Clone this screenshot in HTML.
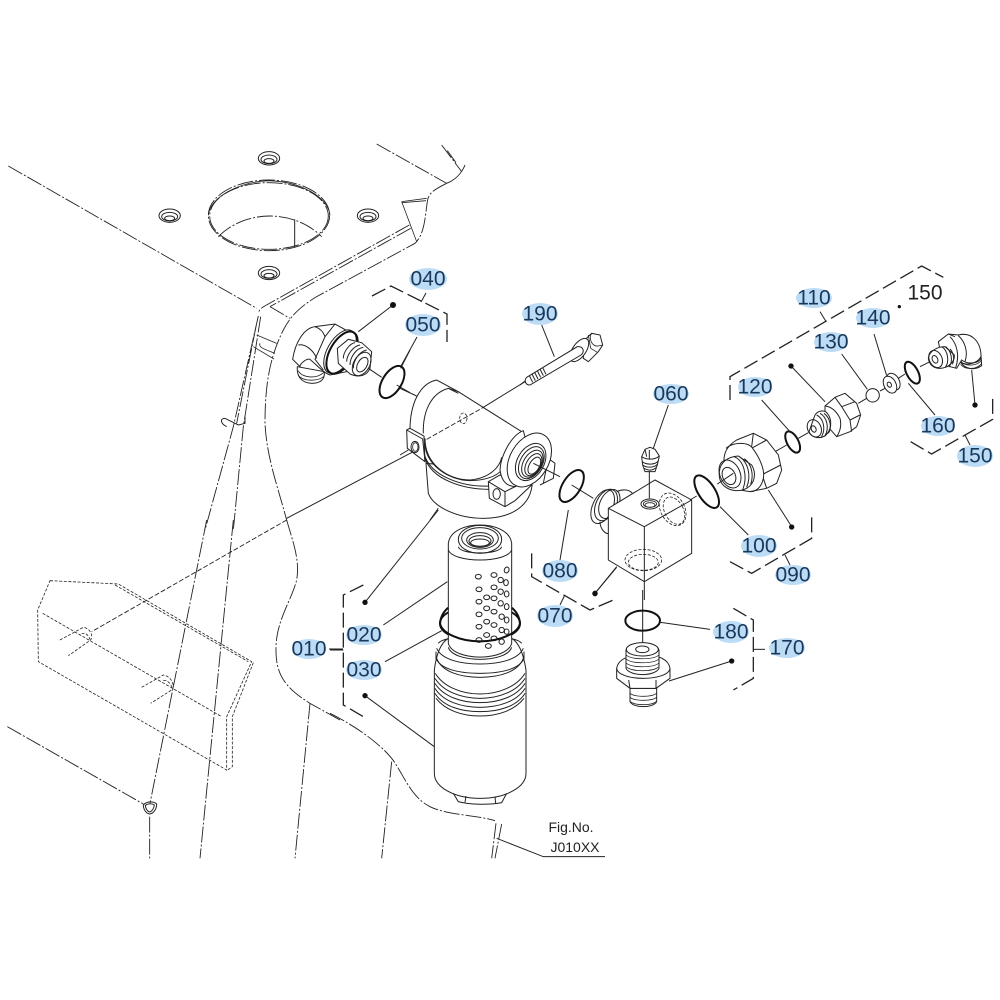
<!DOCTYPE html>
<html><head><meta charset="utf-8">
<style>
html,body{margin:0;padding:0;background:#fff;width:1000px;height:1000px;overflow:hidden}
svg{display:block;filter:blur(.35px)}
svg *{vector-effect:non-scaling-stroke}
path,line,ellipse,circle,polyline,polygon{fill:none;stroke:#222;stroke-width:1}
.w{fill:#fff}
.dd{stroke-dasharray:16 2 2 2;stroke-width:.9}
.ds{stroke-dasharray:3 1.6;stroke-width:.8}
.dk{stroke-dasharray:5 2;stroke-width:.9}
.br{stroke-dasharray:15 5;stroke-width:1.3}
.o{stroke-width:2;stroke:#111}
.t{stroke-width:.8}
.dot{fill:#111;stroke:none}
.hl{fill:#bcdcf6;stroke:none}
text{font-family:"Liberation Sans",sans-serif;font-size:21px;fill:#17385c;text-anchor:middle;dominant-baseline:central}
text.k{fill:#222}
text.f{font-size:14px;fill:#222}
</style></head><body>
<svg width="1000" height="1000" viewBox="0 0 1000 1000" xmlns="http://www.w3.org/2000/svg">

<!-- ZOOM 1 frame -->
<g transform="translate(0,130) scale(.33333)">
<path class="dd" d="M25,108L770,535"/>
<path class="dd" d="M1130,42L1340,160"/>
<path d="M1340,160C1365,150 1385,130 1395,105"/>
<path class="dd" d="M1325,45L1385,125M1342,62L1368,98"/>
<path class="dd" d="M1340,160C1300,180 1285,190 1282,215C1275,260 1275,310 1245,340L950,500C900,530 870,560 850,600C810,680 795,760 795,880C800,980 830,1060 860,1170"/>
<path class="dd" d="M1228,285L805,522C790,530 780,535 775,548M1232,295L810,530"/>
<path class="t" d="M1205,215L1280,205M1205,218L1278,212M1205,215L1250,335"/>
<path class="dd" d="M810,530L870,565"/>
<path class="dd" d="M775,558L700,890L615,1200M782,560L730,890L700,1200M768,590L710,880"/>
<path class="t" d="M770,615L830,640M780,640C775,650 785,655 825,670M760,650L822,687"/>
<path d="M680,890C660,880 660,865 675,865L715,885L735,880L735,860"/>
<path d="M1240,965L860,1165"/>
<!-- large hole -->
<ellipse class="dd" cx="807" cy="256" rx="182" ry="106"/>
<ellipse class="dd" cx="807" cy="258" rx="178" ry="100"/>
<path class="t" d="M625,256C630,200 720,155 807,152C900,155 985,200 990,256"/>
<path class="dd" d="M655,320C700,275 760,258 810,258C860,258 920,275 965,320"/>
<path d="M884,268V352"/>
<!-- small holes -->
<g><ellipse cx="807" cy="85" rx="32" ry="20"/><ellipse cx="807" cy="88" rx="24" ry="13"/><ellipse cx="807" cy="93" rx="15" ry="7"/></g>
<g><ellipse cx="509" cy="257" rx="32" ry="20"/><ellipse cx="509" cy="260" rx="24" ry="13"/><ellipse cx="509" cy="265" rx="15" ry="7"/></g>
<g><ellipse cx="1104" cy="257" rx="32" ry="20"/><ellipse cx="1104" cy="260" rx="24" ry="13"/><ellipse cx="1104" cy="265" rx="15" ry="7"/></g>
<g><ellipse cx="807" cy="429" rx="32" ry="20"/><ellipse cx="807" cy="432" rx="24" ry="13"/><ellipse cx="807" cy="437" rx="15" ry="7"/></g>
</g>

<!-- ZOOM 5 left lower -->
<g transform="translate(0,520) scale(.33333)">
<path class="dd" d="M860,0C880,70 900,120 890,180C875,240 830,300 828,380C826,460 850,500 930,550L1020,600"/>
<path class="dk" d="M860,0L275,335"/>
<path class="ds" d="M150,182L355,192L755,425L680,590L680,750L115,425L113,270Z"/>
<path class="ds" d="M345,195L745,425M760,428L697,590L697,740L680,752"/>
<path class="ds" d="M128,280L665,590"/>
<path class="ds" d="M180,360L250,322C270,325 280,345 272,360L205,407M425,502L490,465C510,468 525,490 518,508L452,550"/>
<path class="ds" d="M245,342C255,335 265,345 270,358M490,482C500,478 512,490 516,502"/>
<path class="dd" d="M620,0L450,850M700,0L600,1015"/>
<path class="dd" d="M930,550L885,1015"/>
<path class="dd" d="M22,620L430,852"/>
<path d="M430,855C440,843 460,843 470,852C470,870 458,882 448,882C438,880 430,868 430,855Z"/>
<path d="M436,856C444,850 456,850 463,855C462,866 455,875 448,876C442,874 437,866 436,856Z"/>
<path class="dd" d="M449,890V1015"/>
</g>

<!-- ZOOM 4 lower frame -->
<g transform="translate(330,510) scale(.33333)">
<path class="dd" d="M0,610C60,640 140,690 185,745C220,790 240,860 300,890C350,915 440,915 495,932"/>
<path class="dd" d="M185,755L155,1045"/>
<path class="dd" d="M498,940L485,1045M515,942L495,1045"/>
<path d="M500,985L640,1040H825"/>
<path d="M325,0L105,277"/>
<circle class="dot" cx="105" cy="277" r="8"/>
<path class="br" d="M100,225L40,255V585L100,620"/>
<path d="M0,420H40"/>
<!-- cartridge -->
<path class="w" d="M313,480C318,440 330,400 355,385H545C570,400 582,440 588,480V790C588,830 530,865 450,865C370,865 313,830 313,790Z"/>
<path d="M370,850L385,875C420,885 480,885 515,878L530,850M405,877L408,858M497,880L495,860"/>
<path d="M318,425V445C330,475 380,490 450,490C520,490 570,475 582,445V425"/>
<path d="M320,445C335,485 390,502 450,502C510,502 565,485 580,445"/>
<path d="M320,415C335,450 395,462 450,462C505,462 565,450 580,415"/>
<path d="M316,490C340,530 395,552 450,552C505,552 560,530 585,490"/>
<path d="M315,505C340,545 395,565 450,565C505,565 560,545 585,505"/>
<path d="M315,520C340,560 395,578 450,578C505,578 560,560 585,520"/>
<path d="M315,535C340,575 395,592 450,592C505,592 560,575 585,535"/>
<path d="M315,550C340,590 395,605 450,605C505,605 560,590 585,550"/>
<path d="M318,565C345,600 395,618 450,618C505,618 555,600 582,565"/>
<path d="M325,400C345,370 555,370 575,400"/>
<!-- ring back -->
<ellipse class="o" cx="450" cy="340" rx="120" ry="54"/>
<!-- element -->
<path class="w" d="M355,100C360,60 410,45 450,45C490,45 540,60 545,100V400C530,455 370,455 355,400Z"/>
<path d="M355,120C370,160 530,160 545,120"/>
<path d="M355,412C370,460 530,460 545,412"/>
<ellipse cx="450" cy="88" rx="65" ry="42"/><ellipse cx="450" cy="85" rx="55" ry="32"/>
<ellipse cx="450" cy="90" rx="40" ry="22"/><ellipse cx="450" cy="93" rx="33" ry="16"/><ellipse cx="450" cy="98" rx="28" ry="11"/>
<path d="M385,110C390,135 510,135 515,110"/>
<g class="t">
<ellipse cx="530" cy="180" rx="7" ry="9" transform="rotate(20 530 180)"/><ellipse cx="492" cy="195" rx="9" ry="7"/><ellipse cx="512" cy="210" rx="8" ry="8"/><ellipse cx="528" cy="218" rx="7" ry="9"/><ellipse cx="445" cy="200" rx="9" ry="7"/><ellipse cx="447" cy="238" rx="9" ry="7"/><ellipse cx="492" cy="232" rx="9" ry="7"/><ellipse cx="512" cy="245" rx="8" ry="8"/><ellipse cx="530" cy="252" rx="7" ry="9"/><ellipse cx="447" cy="275" rx="9" ry="7"/><ellipse cx="470" cy="262" rx="9" ry="7"/><ellipse cx="492" cy="265" rx="9" ry="7"/><ellipse cx="512" cy="280" rx="8" ry="8"/><ellipse cx="530" cy="290" rx="7" ry="9"/><ellipse cx="447" cy="313" rx="9" ry="7"/><ellipse cx="470" cy="295" rx="9" ry="7"/><ellipse cx="492" cy="305" rx="9" ry="7"/><ellipse cx="515" cy="320" rx="8" ry="8"/><ellipse cx="530" cy="330" rx="7" ry="9"/><ellipse cx="447" cy="350" rx="9" ry="7"/><ellipse cx="470" cy="335" rx="9" ry="7"/><ellipse cx="492" cy="345" rx="9" ry="7"/><ellipse cx="515" cy="360" rx="8" ry="8"/><ellipse cx="530" cy="365" rx="7" ry="8"/><ellipse cx="447" cy="390" rx="9" ry="7"/><ellipse cx="470" cy="375" rx="9" ry="7"/><ellipse cx="492" cy="385" rx="9" ry="7"/><ellipse cx="515" cy="395" rx="8" ry="8"/><ellipse cx="475" cy="408" rx="9" ry="7"/>
</g>
<path class="o" d="M330,340C335,370 390,394 450,394C510,394 565,370 570,340M330,340C332,320 340,305 355,293M545,293C560,305 568,320 570,340"/>
<path d="M160,345L352,215M165,455L335,362"/>
<path d="M105,557L313,710"/>
<circle class="dot" cx="105" cy="557" r="8"/>
<path class="br" d="M605,130V200L780,300L850,270"/>
<path d="M690,285L703,258"/>
<path d="M795,250L860,172"/>
<circle class="dot" cx="795" cy="250" r="8"/>
<path d="M690,150L715,0"/>
</g>

<!-- ZOOM 7 elbow 040 -->
<g transform="translate(280,300) scale(.33333)" >
<path class="w" d="M52,200C50,225 60,248 95,250C120,250 135,240 133,215Z"/>
<path class="t" d="M55,212C65,235 115,238 133,215M55,226C70,245 115,245 133,228"/>
<path class="w" d="M38,178C45,130 70,85 105,80L165,72L225,105L225,210L150,225C130,218 110,195 90,178C80,175 60,190 60,200Z"/>
<path d="M55,135C75,130 100,150 110,175M105,80C120,85 130,95 135,110M165,72L135,110L105,178L130,210"/>
<ellipse cx="180" cy="155" rx="38" ry="72" transform="rotate(30 180 155)" class="w"/>
<ellipse cx="186" cy="158" rx="36" ry="70" transform="rotate(30 186 158)" class="o"/>
<path class="w" d="M172,145L205,118L245,128L275,155L270,205C262,225 240,235 210,222L175,190Z"/>
<g class="t"><path d="M190,175C190,155 210,130 225,128M200,185C200,165 220,138 240,135M210,195C210,172 228,145 250,142M220,205C220,180 238,155 260,150"/>
<ellipse cx="245" cy="192" rx="24" ry="38" transform="rotate(30 245 192)"/>
<ellipse cx="247" cy="194" rx="14" ry="24" transform="rotate(30 247 194)"/></g>
<path d="M235,95L335,18M265,205L305,232M350,255L390,278"/>
<circle class="dot" cx="339" cy="15" r="9"/>
<path d="M362,205L390,150"/>
</g>

<!-- O-ring 050 -->
<ellipse class="o" cx="392" cy="382" rx="9.5" ry="18" transform="rotate(32 392 382)"/>
<path d="M401,366L417,337"/>

<!-- Bracket 040 -->
<path class="br" d="M372,296L391,286L447,314V342"/>
<path d="M421,302L426,293"/>

<!-- Bolt -->
<g transform="translate(520,320) scale(.33333)">
<path d="M0,195L15,183"/>
<path class="w" d="M192,62L215,40L240,45L248,75L235,95L205,125L190,115Z"/>
<path class="t" d="M215,40C205,55 215,80 235,78M235,78L248,75M205,45L212,85M212,85L232,97"/>
<ellipse cx="178" cy="90" rx="20" ry="40" transform="rotate(35 178 90)" class="w"/>
<path class="w" d="M20,172L172,80C190,78 195,95 183,105L30,195C15,195 12,180 20,172Z"/>
<g class="t"><path d="M28,167L38,187M36,162L46,182M44,157L54,177M52,152L62,172M60,147L70,167M68,143L78,163"/></g>
<path d="M65,15L103,110"/>
</g>

<!-- T-body -->
<g transform="translate(400,370) scale(.33333)">
<path d="M0,55L50,78M0,255L25,240M115,415L90,450"/>
<path class="w" d="M78,280L85,370C100,410 170,445 250,445C330,445 395,410 397,335L300,300Z"/>
<path class="w" d="M30,180C30,100 60,40 110,30L175,65L365,185L305,300C290,320 250,332 210,332C140,330 75,280 75,220Z"/>
<path d="M70,190C68,130 90,70 145,55L175,65"/>
<path d="M145,55L175,70"/>
<path d="M72,250C90,320 190,352 270,348M74,262C95,330 190,358 268,358"/>
<path d="M75,205C75,280 140,330 210,330C270,325 300,290 305,262"/>
<path class="w" d="M20,180L30,175L72,198L75,275L22,235Z"/>
<path d="M20,180L68,207L75,275"/>
<ellipse cx="45" cy="231" rx="12" ry="17"/>
<ellipse cx="46" cy="231" rx="8" ry="13" class="t"/>
<path class="w" d="M430,340L445,265L465,280L460,325L420,345Z"/>
<path class="w" d="M265,335L300,315L350,340L395,345L345,392L315,410L268,385Z"/>
<path d="M265,335L315,365L315,410M315,365L355,345"/>
<ellipse cx="290" cy="372" rx="11" ry="16"/>
<path class="w" d="M370,182C335,195 302,255 300,300C305,335 320,348 345,350L400,300Z"/>
<ellipse cx="388" cy="270" rx="58" ry="87" transform="rotate(30 388 270)" class="w"/>
<ellipse cx="392" cy="276" rx="40" ry="60" transform="rotate(30 392 276)"/>
<g class="t"><ellipse cx="394" cy="278" rx="33" ry="52" transform="rotate(30 394 278)"/><ellipse cx="397" cy="281" rx="27" ry="44" transform="rotate(30 397 281)"/><ellipse cx="400" cy="284" rx="21" ry="36" transform="rotate(30 400 284)"/><ellipse cx="403" cy="287" rx="15" ry="28" transform="rotate(30 403 287)"/></g>
<path class="dk" d="M80,208L245,115"/>
<ellipse class="ds" cx="190" cy="145" rx="11" ry="16"/>
<path d="M245,115L375,35"/>
<path d="M400,280L480,320"/>
</g>

<!-- ZOOM 2 ring + block -->
<g transform="translate(400,350) scale(.33333)">
<path d="M515,405L580,445"/>
<ellipse class="o" cx="515" cy="408" rx="27" ry="54" transform="rotate(32 515 408)"/>
<path d="M600,515C600,535 615,555 630,550"/>
<path d="M650,425C670,415 690,420 697,430"/>
<g class="t">
<ellipse cx="608" cy="470" rx="30" ry="54" transform="rotate(25 608 470)" stroke-width="1"/>
<ellipse cx="618" cy="465" rx="30" ry="50" transform="rotate(25 618 465)"/>
<ellipse cx="628" cy="462" rx="28" ry="46" transform="rotate(25 628 462)"/>
</g>
<path class="w" d="M625,475L765,390L875,450V610L733,695L625,630Z"/>
<path d="M625,475L733,530L875,450M733,530V695"/>
<ellipse cx="750" cy="462" rx="27" ry="15"/>
<ellipse cx="750" cy="462" rx="20" ry="10" class="t"/><ellipse cx="750" cy="465" rx="15" ry="7" class="t"/>
<ellipse class="ds" cx="818" cy="478" rx="36" ry="52" transform="rotate(-28 818 478)"/>
<ellipse class="ds" cx="822" cy="482" rx="28" ry="44" transform="rotate(-28 822 482)"/>
<ellipse class="ds" cx="730" cy="630" rx="55" ry="32"/>
<ellipse class="ds" cx="730" cy="637" rx="45" ry="24"/>
<path d="M748,365V445M733,695V750"/>
<path class="w" d="M725,320L735,298L750,292L765,298L778,318L772,345L765,365H735L728,345Z"/>
<path d="M725,320C740,330 765,330 778,318M748,326V300M735,298L740,320"/>
<g class="t"><path d="M726,335C740,345 765,345 775,333M728,345C740,354 762,354 772,343M732,355C745,362 758,362 768,353"/></g>
<path d="M760,295L805,165"/>
<path d="M585,730L650,650"/>
<circle class="dot" cx="585" cy="731" r="8"/>
</g>

<!-- ZOOM 3 right parts -->
<g transform="translate(690,260) scale(.33333)">
<path class="br" d="M120,420V350L695,18L760,52"/>
<path d="M390,155L407,183"/>
<circle class="dot" cx="628" cy="140" r="5"/>
<path class="br" d="M662,545L725,582L908,478V405"/>
<path d="M825,525L840,555"/>
<path class="br" d="M120,905L185,940L365,835V762"/>
<path d="M285,885L300,915"/>
<path d="M0,720L20,708"/>
<ellipse class="o" cx="50" cy="695" rx="25" ry="56" transform="rotate(-33 50 695)"/>
<path d="M235,690L305,800"/>
<circle class="dot" cx="305" cy="801" r="8"/>
<path d="M90,740L175,825"/>
<ellipse class="o" cx="308" cy="546" rx="17" ry="35" transform="rotate(-28 308 546)"/>
<path d="M325,535L355,518M255,575L290,555"/>
<path d="M215,420L300,515"/>
<path d="M303,318L405,425"/>
<circle class="dot" cx="303" cy="318" r="8"/>
<circle cx="548" cy="406" r="20"/>
<path d="M455,282L532,388"/>
<path d="M570,393L585,385"/>
<ellipse cx="610" cy="365" rx="18" ry="27" transform="rotate(-28 610 365)" class="w"/>
<ellipse cx="600" cy="374" rx="18" ry="27" transform="rotate(-28 600 374)" class="w"/>
<ellipse cx="598" cy="374" rx="6" ry="8" transform="rotate(-28 598 374)"/>
<path d="M552,222L590,347"/>
<path d="M625,355L645,342M690,320L720,305"/>
<ellipse class="o" cx="667" cy="338" rx="17" ry="36" transform="rotate(-28 667 338)"/>
<path d="M655,370L735,465"/>
<path d="M845,330L855,435"/>
<circle class="dot" cx="855" cy="435" r="8"/>
<path d="M505,430L530,415"/>
</g>

<!-- Nuts (crop at 710,380) -->
<g transform="translate(710,380) scale(.33333)">
<!-- 090 -->
<path class="w" d="M42,240C42,215 55,195 80,180L130,160L170,180L205,225L215,270L200,310L170,325L120,335L90,330Z"/>
<path d="M48,205C70,185 115,185 128,205C150,235 165,270 160,295C155,320 140,335 120,335"/>
<path d="M130,160L125,200M170,180L128,203M160,282L212,255M160,295L170,325"/>
<path class="w" d="M28,275C30,250 50,230 85,228L125,255C140,280 135,310 110,325C90,335 65,335 45,320C32,310 26,295 28,275Z"/>
<g class="t"><path d="M72,230C100,240 115,285 98,330M88,230C113,245 125,285 110,322M103,236C125,252 132,285 122,313"/>
<ellipse cx="60" cy="282" rx="30" ry="44" transform="rotate(-25 60 282)"/>
<ellipse cx="57" cy="288" rx="19" ry="27" transform="rotate(-25 57 288)"/></g>
<path d="M22,312L70,280"/>
<!-- 110 -->
<path class="w" d="M345,78L375,52L405,40L440,70L452,105L440,140L420,155L380,170L345,130Z"/>
<path d="M345,78C365,80 380,95 390,115C395,135 390,155 380,170"/>
<path d="M375,52L395,80L420,120L425,155M420,120L450,105M395,80L435,65"/>
<path class="w" d="M315,105C325,90 345,90 352,100C368,120 365,150 345,168C325,178 305,172 297,155Z"/>
<g class="t"><path d="M320,105C340,115 348,145 335,170M330,100C352,112 358,145 345,167M342,100C362,115 366,145 355,160"/>
<ellipse cx="313" cy="145" rx="20" ry="27" transform="rotate(-25 313 145)"/>
<ellipse cx="311" cy="147" rx="7" ry="10" transform="rotate(-25 311 147)"/></g>
</g>

<!-- Elbow 150 -->
<g transform="translate(915,325) scale(.33333)">
<path class="w" d="M135,100C135,125 170,142 200,122L198,90Z"/>
<path class="t" d="M137,108C150,125 185,125 200,105M137,118C150,135 185,135 200,115"/>
<path class="w" d="M70,50L100,27L130,30C170,20 200,50 198,100C190,115 160,120 140,105L125,130L85,120Z"/>
<path d="M130,32C150,50 160,80 150,110M120,35L100,27M105,35C125,55 135,90 122,128M135,112C155,122 185,118 198,95"/>
<path class="w" d="M40,100C42,80 65,65 90,65L118,90C120,110 100,130 75,130C55,130 42,118 40,100Z"/>
<g class="t"><path d="M80,65C98,75 105,110 90,128M92,65C110,78 115,110 102,126M105,72C118,85 118,108 112,118"/>
<ellipse cx="62" cy="102" rx="19" ry="27" transform="rotate(-25 62 102)"/>
<ellipse cx="60" cy="103" rx="8" ry="12" transform="rotate(-25 60 103)"/></g>
</g>

<!-- ZOOM 6 -->
<g transform="translate(590,590) scale(.33333)">
<path d="M158,0V170"/>
<ellipse class="o" cx="158" cy="92" rx="52" ry="30"/>
<path d="M212,97L360,118"/>
<path class="br" d="M430,55L490,90V265L430,300"/>
<path d="M490,178H525"/>
<path d="M237,273L425,213"/>
<circle class="dot" cx="425" cy="213" r="8"/>
<path class="w" d="M120,295V335C130,355 190,355 200,335V295Z"/>
<path class="t" d="M120,310C135,322 185,322 200,310M120,322C135,334 185,334 200,322M122,335C135,347 185,347 198,335"/>
<path class="w" d="M80,235C85,205 120,195 158,195C200,195 235,205 240,235V265L198,295H120L80,265Z"/>
<path d="M80,235C85,275 235,275 240,235M116,270L120,295M198,270L198,295"/>
<path class="w" d="M108,180C110,160 205,160 207,180V235C195,260 120,260 108,235Z"/>
<path class="t" d="M108,195C125,210 190,210 207,195M108,207C125,222 190,222 207,207M108,219C125,234 190,234 207,219M110,231C125,246 190,246 205,231"/>
<ellipse cx="157" cy="178" rx="48" ry="20" class="w"/>
<ellipse cx="157" cy="178" rx="20" ry="10"/>
</g>

<!-- Labels -->
<ellipse class="hl" cx="428" cy="279" rx="19" ry="11"/>
<ellipse class="hl" cx="423" cy="325" rx="18" ry="11"/>
<ellipse class="hl" cx="540" cy="314" rx="18" ry="11"/>
<ellipse class="hl" cx="671" cy="394" rx="18" ry="10"/>
<ellipse class="hl" cx="814" cy="298" rx="18" ry="10"/>
<ellipse class="hl" cx="831" cy="342" rx="17" ry="10"/>
<ellipse class="hl" cx="873" cy="318" rx="17" ry="10"/>
<ellipse class="hl" cx="755" cy="387" rx="17" ry="10"/>
<ellipse class="hl" cx="938" cy="426" rx="17" ry="10"/>
<ellipse class="hl" cx="975" cy="456" rx="18" ry="11"/>
<ellipse class="hl" cx="759" cy="546" rx="18" ry="11"/>
<ellipse class="hl" cx="793" cy="575" rx="18" ry="10"/>
<ellipse class="hl" cx="560" cy="571" rx="18" ry="11"/>
<ellipse class="hl" cx="555" cy="616" rx="18" ry="11"/>
<ellipse class="hl" cx="731" cy="632" rx="18" ry="11"/>
<ellipse class="hl" cx="787" cy="648" rx="18" ry="10"/>
<ellipse class="hl" cx="309" cy="649" rx="17" ry="10"/>
<ellipse class="hl" cx="364" cy="635" rx="18" ry="10"/>
<ellipse class="hl" cx="364" cy="670" rx="18" ry="10"/>
<path d="M329,649H343"/>
<text x="428" y="279">040</text>
<text x="423" y="325">050</text>
<text x="540" y="314">190</text>
<text x="671" y="394">060</text>
<text x="814" y="298">110</text>
<text x="831" y="342">130</text>
<text x="873" y="318">140</text>
<text x="755" y="387">120</text>
<text class="k" x="925" y="293">150</text>
<text x="938" y="426">160</text>
<text x="975" y="456">150</text>
<text x="759" y="546">100</text>
<text x="793" y="575">090</text>
<text x="560" y="571">080</text>
<text x="555" y="616">070</text>
<text x="731" y="632">180</text>
<text x="787" y="648">170</text>
<text x="309" y="649">010</text>
<text x="364" y="635">020</text>
<text x="364" y="670">030</text>
<text class="f" x="571" y="827">Fig.No.</text>
<text class="f" x="575" y="847">J010XX</text>
</svg>
</body></html>
